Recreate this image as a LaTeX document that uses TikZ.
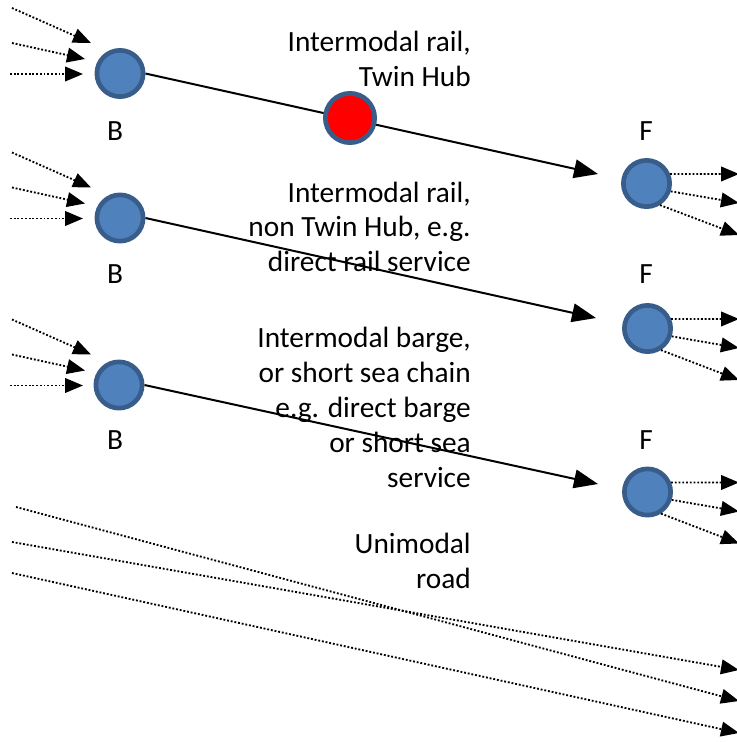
\documentclass[tikz,border=0pt]{standalone}
\usepackage{fontspec}
\setmainfont{Carlito}
\usetikzlibrary{arrows.meta}
\definecolor{nodefill}{HTML}{4F81BD}
\definecolor{nodeline}{HTML}{385D8A}
\definecolor{hubred}{HTML}{FF0000}
\begin{document}
\begin{tikzpicture}[x=0.75pt,y=-0.75pt,
  terminal/.style={circle,fill=nodefill,draw=nodeline,line width=3.5pt,minimum size=34.7pt,inner sep=0pt},
  hub/.style={circle,fill=hubred,draw=nodeline,line width=3.5pt,minimum size=37pt,inner sep=0pt},
  lbl/.style={inner sep=0pt,font=\fontsize{22}{26.25}\selectfont},
  mainarrow/.style={line width=1.5pt,-{Triangle[length=18pt,width=14pt]}},
  dotarrow/.style={line width=1.4pt,dash pattern=on 1.4pt off 1.4pt,-{Triangle[length=13.5pt,width=11pt]}}]
\useasboundingbox (0,0) rectangle (737,742);

% nodes
\node[terminal] (B1) at (120,73.5) {};
\node[terminal] (B2) at (120,218) {};
\node[terminal] (B3) at (119,385) {};
\node[terminal] (F1) at (646.5,183.5) {};
\node[terminal] (F2) at (647.5,328.5) {};
\node[terminal] (F3) at (647.5,492) {};

% labels B / F
\node[lbl,anchor=base] (lb1) at (115,140) {B};
\node[lbl,anchor=base] (lb2) at (115,283) {B};
\node[lbl,anchor=base] (lb3) at (115,449) {B};
\node[lbl,anchor=base] (lf1) at (646,140) {F};
\node[lbl,anchor=base] (lf2) at (646,283) {F};
\node[lbl,anchor=base] (lf3) at (646,449) {F};

% text blocks
\node[lbl,anchor=base east] (a1) at (471,52) {Intermodal rail,};
\node[lbl,anchor=base east] (a2) at (471,87) {Twin Hub};
\node[lbl,anchor=base east] (b1) at (471,202) {Intermodal rail,};
\node[lbl,anchor=base east] (b2) at (471,236.5) {non Twin Hub, e.g.};
\node[lbl,anchor=base east] (b3) at (471,271) {direct rail service};
\node[lbl,anchor=base east] (c1) at (471,347) {Intermodal barge,};
\node[lbl,anchor=base east] (c2) at (471,382) {or short sea chain};
\node[lbl,anchor=base east] (c3) at (471,417) {e.g. direct barge};
\node[lbl,anchor=base east] (c4) at (471,452) {or short sea};
\node[lbl,anchor=base east] (c5) at (471,487) {service};
\node[lbl,anchor=base east] (d1) at (471,553) {Unimodal};
\node[lbl,anchor=base east] (d2) at (471,588) {road};

% main connectors
\coordinate (t1) at (598,174);
\coordinate (t2) at (596,318);
\coordinate (t3) at (598,484);
\draw[mainarrow] (B1.east) -- (t1);
\draw[mainarrow] (B2.east) -- (t2);
\draw[mainarrow] (B3.east) -- (t3);
\node[hub] (R) at (350,118) {};

% incoming dotted arrows
\foreach \dy/\n in {0/1,144.5/2,311.5/3}{
  \coordinate (in\n a) at (12,8+\dy);
  \coordinate (in\n b) at (91,43+\dy);
  \coordinate (in\n c) at (12,43+\dy);
  \coordinate (in\n d) at (85,59+\dy);
  \coordinate (in\n e) at (10,74+\dy);
  \coordinate (in\n f) at (83,74+\dy);
  \draw[dotarrow] (in\n a) -- (in\n b);
  \draw[dotarrow] (in\n c) -- (in\n d);
  \draw[dotarrow] (in\n e) -- (in\n f);
}

% outgoing dotted arrows
\foreach \dy/\n in {0/1,145/2,308.5/3}{
  \coordinate (out\n a) at (739,174+\dy);
  \coordinate (out\n b) at (739,203+\dy);
  \coordinate (out\n c) at (739,235+\dy);
  \draw[dotarrow] (F\n.22) -- (out\n a);
  \draw[dotarrow] (F\n.-18) -- (out\n b);
  \draw[dotarrow] (F\n.-58) -- (out\n c);
}

% unimodal road lines
\coordinate (ra) at (16,507);
\coordinate (rb) at (739,701);
\coordinate (rc) at (12,542);
\coordinate (rd) at (739,670);
\coordinate (re) at (12,573);
\coordinate (rf) at (739,733);
\draw[dotarrow] (ra) -- (rb);
\draw[dotarrow] (rc) -- (rd);
\draw[dotarrow] (re) -- (rf);
\end{tikzpicture}
\end{document}
